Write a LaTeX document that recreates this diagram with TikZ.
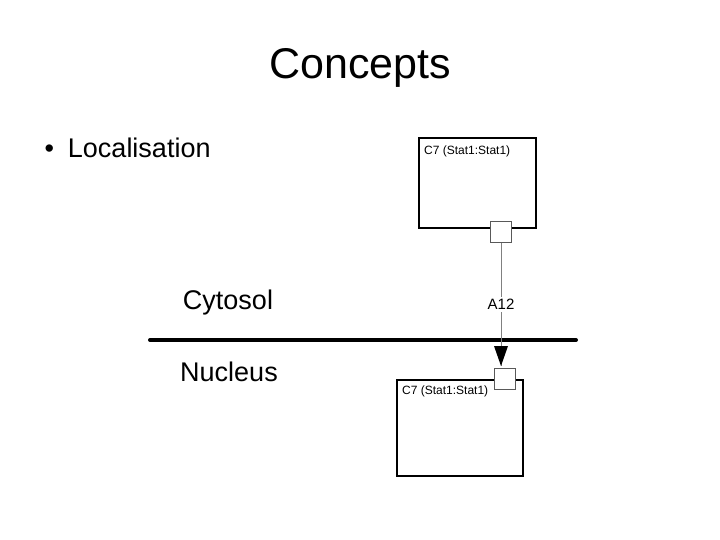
\documentclass[tikz,border=0pt]{standalone}
\usepackage{fontspec}
\setmainfont{Liberation Sans}
\usetikzlibrary{arrows}
\begin{document}
\begin{tikzpicture}[x=1pt,y=-1pt,>=triangle 45]
\tikzstyle{compartment}=[draw=black,line width=2.5pt]
\tikzstyle{port}=[draw=gray!70!black,fill=white,minimum size=21pt,inner sep=0pt]
\useasboundingbox (0,0) rectangle (720,540);
\node (title) at (360,68) {\fontsize{43}{50}\selectfont Concepts};
\node[anchor=west] (item) at (41,148) {\fontsize{27}{32}\selectfont \textbullet\hspace{14pt}Localisation};
% complexes
\draw[compartment] (419,138) rectangle (536,228);
\node[anchor=north west,inner sep=0pt] (top) at (424,146) {\fontsize{12}{15}\selectfont C7 (Stat1:Stat1)};
\draw[compartment] (397,380) rectangle (523,476);
\node[anchor=north west,inner sep=0pt] (bottom) at (402,386) {\fontsize{12}{15}\selectfont C7 (Stat1:Stat1)};
\node[port] (p1) at (501,232) {};
\node[port] (p2) at (505,379) {};
% membrane
\coordinate (mleft) at (150,340);
\coordinate (mright) at (576,340);
\draw[line width=4pt,line cap=round] (mleft) -- (mright);
\node (cyto) at (228,303) {\fontsize{27}{32}\selectfont Cytosol};
\node (nuc) at (229,372) {\fontsize{27}{32}\selectfont Nucleus};
% transport
\coordinate (tip) at (p1 |- 0,366);
\draw[gray] (p1) -- node[fill=white,text=black,inner sep=2pt]{\fontsize{15}{18}\selectfont A12} (tip);
\fill[black] (tip) -- ++(-7,-20) -- ++(14,0) -- cycle;
\end{tikzpicture}
\end{document}
